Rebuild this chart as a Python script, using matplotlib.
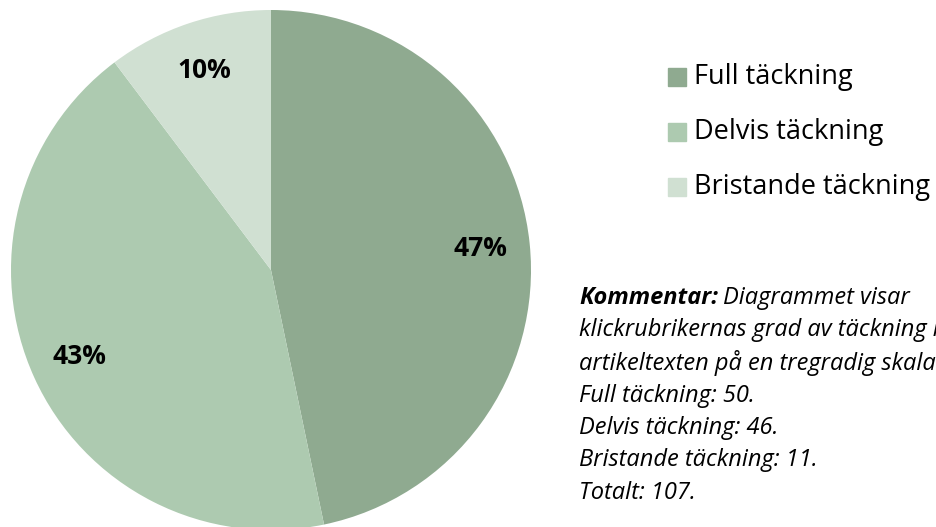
import matplotlib.pyplot as plt

categories = ["Full täckning", "Delvis täckning", "Bristande täckning"]
counts = [50, 46, 11]
colors = ["#8faa90", "#adcab0", "#d0e0d2"]

comment_lines = [
    "klickrubrikernas grad av täckning i",
    "artikeltexten på en tregradig skala.",
    "Full täckning: 50.",
    "Delvis täckning: 46.",
    "Bristande täckning: 11.",
    "Totalt: 107.",
]

plt.rcParams['font.family'] = ['Open Sans', 'DejaVu Sans']

fig = plt.figure(figsize=(9.36, 5.27), dpi=100)
W, H = 936, 527

# pie axes: center ~ (271, 270) px, radius ~260 px
ax = fig.add_axes([11 / W, (H - 530) / H, 520 / W, 520 / H])
wedges, texts, autotexts = ax.pie(
    counts, colors=colors, startangle=90, counterclock=False,
    autopct=lambda p: f"{p:.0f}%", pctdistance=0.81,
    wedgeprops=dict(linewidth=0), textprops=dict(fontsize=19, fontweight='bold', color='black'),
)
for w in wedges:
    w.set_clip_on(False)
ax.set_xlim(-1, 1)
ax.set_ylim(-1, 1)
ax.set_aspect('equal')
ax.axis('off')

# legend
leg_y = [77, 132, 187]
for name, c, y in zip(categories, colors, leg_y):
    fig.patches.append(plt.Rectangle((668 / W, (H - y - 9) / H), 18 / W, 18 / H,
                                     transform=fig.transFigure, color=c, figure=fig))
    fig.text(694 / W, (H - y) / H, name, fontsize=19.5, va='center', ha='left')

# comment
x0, y0, dy = 579, 298, 32.5
t = fig.text(x0 / W, (H - y0) / H, "Kommentar:", fontsize=17, fontweight='bold', style='italic',
             va='center', ha='left')
fig.canvas.draw()
bb = t.get_window_extent()
fig.text((bb.x1 + 5) / W, (H - y0) / H, "Diagrammet visar", fontsize=17, style='italic',
         va='center', ha='left')
for i, line in enumerate(comment_lines):
    fig.text(x0 / W, (H - y0 - dy * (i + 1)) / H, line, fontsize=17, style='italic',
             va='center', ha='left')

fig.savefig("out.png", dpi=100)
